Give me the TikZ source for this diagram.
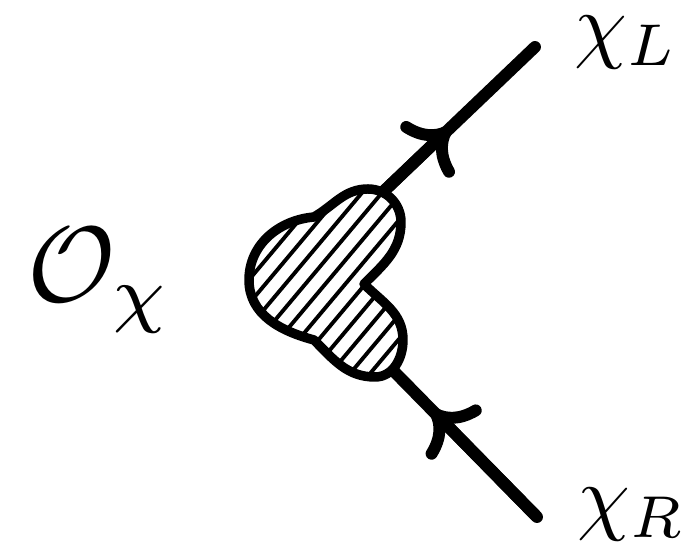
\documentclass[tikz,border=0pt]{standalone}
\usetikzlibrary{arrows.meta}
\tikzset{
  fermion/.style={line width=3.4pt, line cap=round},
  flowtip/.style={line width=3.4pt, -{To[length=10.5pt,width=21pt,round]}},
  blobline/.style={line width=2.7pt, line join=round},
  hatch/.style={line width=1.1pt},
  lbl/.style={inner sep=0pt, anchor=base west},
}
% outline of the three-lobed blob
\def\blobpath{(364,262) to[out=45,in=-90] (401,324) to[out=90,in=0] (368,357)
  to[out=180,in=30] (314,329) to[out=185,in=90] (249,266)
  to[out=-90,in=165] (314,206) to[out=-45,in=180] (375,169)
  to[out=0,in=-90] (403,206) to[out=90,in=-45] cycle}

\begin{document}
\begin{tikzpicture}[x=0.01cm, y=0.01cm]
  \useasboundingbox (0,0) rectangle (687,546);

  \coordinate (blobU) at (360,332);
  \coordinate (blobD) at (370,199);
  \coordinate (endL)  at (535,499);
  \coordinate (endR)  at (537,29);
  \coordinate (tipU)  at (450,418);
  \coordinate (tipD)  at (432,136);

  % fermion legs
  \draw[fermion] (blobU) -- (endL);
  \draw[fermion] (blobD) -- (endR);
  \draw[flowtip] (blobU) -- (tipU);
  \draw[flowtip] (endR) -- (tipD);

  % hatched blob
  \fill[white] \blobpath;
  \begin{scope}
    \clip \blobpath;
    \foreach \c in {-340,-316.2,...,90}
      \draw[hatch] (200,238.4+\c) -- (460,548.2+\c);
  \end{scope}
  \draw[blobline] \blobpath;

  \node[lbl, scale=2.4]  (chiL) at (573,493) {$\chi_L$};
  \node[lbl, scale=2.4]  (chiR) at (576,21)  {$\chi_R$};
  \node[lbl, scale=3.05] (opchi) at (25,244) {$\mathcal{O}_\chi$};
\end{tikzpicture}
\end{document}
